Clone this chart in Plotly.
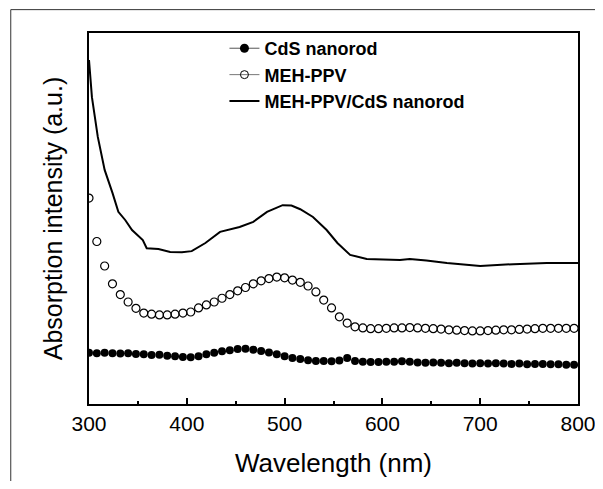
import plotly.graph_objects as go

# wavelength grid (nm) for the two dotted spectra
wl = [300, 308, 316, 324, 332, 340, 348, 356, 364, 372, 380, 388, 396, 404, 412, 420,
      428, 436, 444, 452, 460, 468, 476, 484, 492, 500, 508, 516, 524, 532, 540, 548,
      556, 564, 572, 580, 588, 596, 604, 612, 620, 628, 636, 644, 652, 660, 668, 676,
      684, 692, 700, 708, 716, 724, 732, 740, 748, 756, 764, 772, 780, 788, 796]

cds = [13.8, 13.7, 13.8, 13.7, 13.6, 13.7, 13.5, 13.4, 13.2, 13.3, 13.0, 12.9, 12.7, 12.6, 12.9, 13.4,
       13.8, 14.2, 14.5, 14.8, 14.9, 14.6, 14.3, 13.9, 13.4, 12.9, 12.4, 12.1, 11.8, 11.6, 11.6, 11.5,
       11.7, 12.4, 11.6, 11.4, 11.3, 11.3, 11.4, 11.4, 11.5, 11.4, 11.2, 11.1, 11.2, 11.1, 11.0, 11.1,
       11.0, 10.9, 11.0, 10.9, 11.0, 10.9, 10.8, 10.9, 10.7, 10.8, 10.8, 10.7, 10.7, 10.6, 10.6]

meh = [55.5, 43.8, 37.2, 32.4, 29.5, 27.5, 25.8, 24.5, 24.2, 24.0, 24.0, 24.2, 24.5, 24.8, 25.9, 26.7,
       27.5, 28.5, 29.5, 30.5, 31.4, 32.4, 33.2, 33.8, 34.2, 34.0, 33.4, 32.8, 31.8, 30.2, 28.0, 25.9,
       23.5, 21.8, 20.8, 20.5, 20.3, 20.3, 20.4, 20.5, 20.5, 20.6, 20.5, 20.4, 20.3, 20.2, 20.0, 19.9,
       19.8, 19.7, 19.7, 19.8, 19.9, 20.0, 20.0, 20.1, 20.2, 20.3, 20.4, 20.4, 20.4, 20.4, 20.4]

# composite film, solid curve
comb_wl = [300, 303, 309, 316, 324, 330, 337, 344, 355, 359, 371, 383, 395, 405, 419, 434, 454,
           468, 482, 498, 507, 516, 529, 543, 554, 567, 584, 600, 618, 628, 645, 666, 700, 734,
           768, 800]
comb = [92.7, 82.7, 72.0, 63.1, 56.9, 51.8, 49.6, 46.9, 44.2, 42.0, 41.8, 41.0, 40.9, 41.2, 43.4,
        46.4, 47.7, 49.1, 51.8, 53.6, 53.5, 52.5, 50.4, 46.9, 43.4, 40.2, 39.1, 38.9, 38.8, 39.1,
        38.7, 38.0, 37.2, 37.7, 38.0, 38.0]

FONT = "Liberation Sans, Arial, sans-serif"

fig = go.Figure()

# plotted data (markers only)
fig.add_trace(go.Scatter(x=wl, y=cds, mode='markers', showlegend=False,
                         marker=dict(symbol='circle', size=8, color='black')))
fig.add_trace(go.Scatter(x=wl, y=meh, mode='markers', showlegend=False,
                         marker=dict(symbol='circle-open', size=8, color='black',
                                     line=dict(width=1.2, color='black'))))
fig.add_trace(go.Scatter(x=comb_wl, y=comb, mode='lines', showlegend=False,
                         line=dict(color='black', width=2)))

# legend entries: thin line through the symbol like the original
fig.add_trace(go.Scatter(x=[None], y=[None], mode='lines+markers', name='CdS nanorod',
                         line=dict(color='#555', width=1),
                         marker=dict(symbol='circle', size=9, color='black')))
fig.add_trace(go.Scatter(x=[None], y=[None], mode='lines+markers', name='MEH-PPV',
                         line=dict(color='#777', width=1),
                         marker=dict(symbol='circle-open', size=8, color='black',
                                     line=dict(width=1, color='black'))))
fig.add_trace(go.Scatter(x=[None], y=[None], mode='lines', name='MEH-PPV/CdS nanorod',
                         line=dict(color='black', width=2)))

# the page puts the figure 8px in from the top-left corner, so keep it inside the window
fig.update_layout(
    width=587, height=473,
    margin=dict(l=81, r=17, t=25, b=77),
    paper_bgcolor='white', plot_bgcolor='white',
    font=dict(family=FONT, color='black'),
    showlegend=True,
    legend=dict(x=0.277, y=1.008, xanchor='left', yanchor='top',
                bgcolor='rgba(0,0,0,0)', borderwidth=0,
                font=dict(family=FONT, size=18, color='black', weight='bold'),
                tracegroupgap=0),
    xaxis=dict(
        range=[300, 800], tickvals=[300, 400, 500, 600, 700, 800],
        ticks='inside', ticklen=6, tickwidth=1.5, tickcolor='black',
        minor=dict(tickvals=[350, 450, 550, 650, 750], ticks='inside', ticklen=3,
                   tickwidth=1.5, tickcolor='black', showgrid=False),
        showline=True, linecolor='black', linewidth=1.5, mirror=True,
        showgrid=False, zeroline=False, ticklabeloverflow='allow', automargin=False,
        tickfont=dict(size=21, family=FONT), ticklabelstandoff=0,
        title=dict(text='Wavelength (nm)', font=dict(size=26, family=FONT), standoff=20),
    ),
    yaxis=dict(
        range=[0, 100], showticklabels=False, ticks='', automargin=False,
        showline=True, linecolor='black', linewidth=1.5, mirror=True,
        showgrid=False, zeroline=False,
        title=dict(text='Absorption intensity (a.u.)', font=dict(size=25, family=FONT),
                   standoff=18),
    ),
    shapes=[
        # outer figure frame from the scanned page
        dict(type='line', xref='paper', yref='paper', x0=-0.16, x1=1.06, y0=1.063, y1=1.063,
             line=dict(color='#333', width=1)),
        dict(type='line', xref='paper', yref='paper', x0=-0.16, x1=-0.16, y0=1.063, y1=-0.22,
             line=dict(color='#333', width=1)),
    ],
)

fig.write_html("out.html")
